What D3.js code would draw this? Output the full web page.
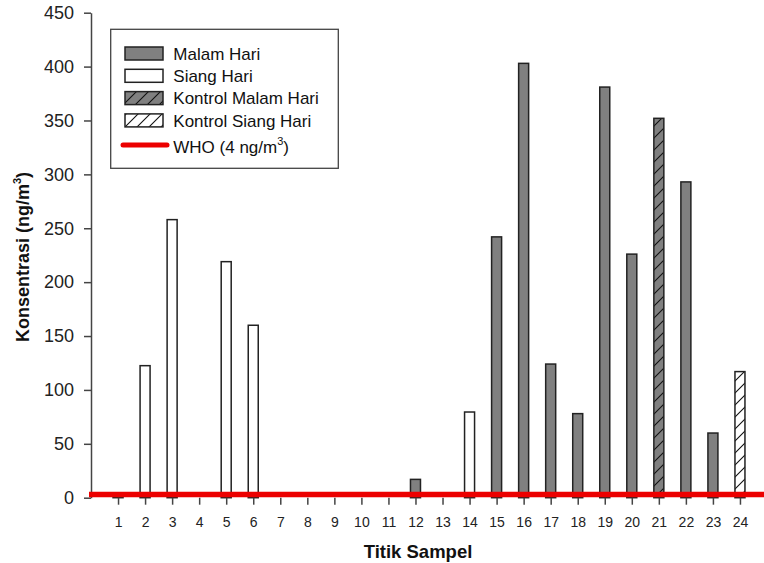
<!DOCTYPE html>
<html>
<head>
<meta charset="utf-8">
<script src="https://cdn.jsdelivr.net/npm/d3@7"></script>
<style>
  html, body { margin: 0; padding: 0; background: #fff; }
  svg { display: block; font-family: Arial, "Liberation Sans", sans-serif; }
</style>
</head>
<body>
<svg id="chart" width="764" height="563"></svg>
<script>
// Sample points along the x axis
const sampleIds = [1, 2, 3, 4, 5, 6, 7, 8, 9, 10, 11, 12, 13, 14, 15, 16, 17, 18, 19, 20, 21, 22, 23, 24];

// Concentrations (ng/m3) per sample point; null where a series has no measurement
const malamHari    = [0.8, null, null, null, null, null, null, null, null, null, null, 17, null, null, 242, 403, 124, 78, 381, 226, null, 293, 60, null];
const siangHari    = [null, 122.5, 258, null, 219, 160, null, null, null, null, null, null, null, 79.5, null, null, null, null, null, null, null, null, null, null];
const kontrolMalam = [null, null, null, null, null, null, null, null, null, null, null, null, null, null, null, null, null, null, null, null, 352, null, null, null];
const kontrolSiang = [null, null, null, null, null, null, null, null, null, null, null, null, null, null, null, null, null, null, null, null, null, null, null, 117];

// WHO guideline value
const whoLimit = 4;

// Y-axis tick values
const yTicks = [0, 50, 100, 150, 200, 250, 300, 350, 400, 450];

const svg = d3.select("#chart");

const x = d3.scaleLinear().domain([0, 25]).range([91, 767]);
const y = d3.scaleLinear().domain([0, 450]).range([497.7, 12.7]);

const barW = 10;

// Diagonal hatch patterns
const defs = svg.append("defs");
function hatch(id, bg) {
  const s = 12;
  const p = defs.append("pattern")
    .attr("id", id)
    .attr("patternUnits", "userSpaceOnUse")
    .attr("width", s).attr("height", s);
  p.append("rect").attr("width", s).attr("height", s).attr("fill", bg);
  p.append("path")
    .attr("d", `M-1,${s + 1} L${s + 1},-1 M-1,1 L1,-1 M${s - 1},${s + 1} L${s + 1},${s - 1}`)
    .attr("stroke", "#111").attr("stroke-width", 1.1);
}
hatch("hatchGray", "#808080");
hatch("hatchWhite", "#ffffff");

const series = [
  { name: "Malam Hari", values: malamHari, fill: "#808080" },
  { name: "Siang Hari", values: siangHari, fill: "#ffffff" },
  { name: "Kontrol Malam Hari", values: kontrolMalam, fill: "url(#hatchGray)" },
  { name: "Kontrol Siang Hari", values: kontrolSiang, fill: "url(#hatchWhite)" }
];

// Bars
series.forEach(s => {
  const pts = sampleIds.map((id, i) => ({ id, v: s.values[i] })).filter(d => d.v != null);
  svg.append("g").selectAll("rect").data(pts).join("rect")
    .attr("x", d => x(d.id) - barW / 2)
    .attr("y", d => y(d.v))
    .attr("width", barW)
    .attr("height", d => y(0) - y(d.v))
    .attr("fill", s.fill)
    .attr("stroke", "#222")
    .attr("stroke-width", 1.5);
});

// Y axis
const yAxis = d3.axisLeft(y).tickValues(yTicks).tickSize(7).tickPadding(10).tickSizeOuter(0);
const gy = svg.append("g").attr("transform", `translate(${x(0)},0)`).call(yAxis);
gy.select(".domain").attr("stroke", "#444").attr("stroke-width", 1.5);
gy.selectAll(".tick line").attr("stroke", "#444").attr("stroke-width", 1.5);
gy.selectAll(".tick text").attr("font-size", 18).attr("fill", "#222")
  .attr("font-family", "Arial, 'Liberation Sans', sans-serif");

// X axis (ticks only)
const xAxis = d3.axisBottom(x).tickValues(sampleIds).tickFormat(d3.format("d")).tickSize(7).tickPadding(12);
const gx = svg.append("g").attr("transform", `translate(0,${y(0)})`).call(xAxis);
gx.select(".domain").remove();
gx.selectAll(".tick line").attr("stroke", "#444").attr("stroke-width", 1.5);
gx.selectAll(".tick text").attr("font-size", 14).attr("fill", "#222")
  .attr("font-family", "Arial, 'Liberation Sans', sans-serif");

// WHO guideline line
svg.append("line")
  .attr("x1", x(0) - 2).attr("x2", 764)
  .attr("y1", y(whoLimit) + 1).attr("y2", y(whoLimit) + 1)
  .attr("stroke", "#ec0000").attr("stroke-width", 5.5);

// Axis titles
svg.append("text")
  .attr("x", 418).attr("y", 558)
  .attr("text-anchor", "middle")
  .attr("font-size", 18.5).attr("font-weight", "bold").attr("fill", "#111")
  .text("Titik Sampel");

const yt = svg.append("text")
  .attr("transform", "translate(29,257) rotate(-90)")
  .attr("text-anchor", "middle")
  .attr("font-size", 18).attr("font-weight", "bold").attr("fill", "#111");
yt.append("tspan").text("Konsentrasi (ng/m");
yt.append("tspan").attr("font-size", 11).attr("dy", -8).text("3");
yt.append("tspan").attr("dy", 8).text(")");

// Legend
const lg = svg.append("g");
lg.append("rect")
  .attr("x", 110.7).attr("y", 29.3).attr("width", 227.6).attr("height", 139)
  .attr("fill", "#fff").attr("stroke", "#444").attr("stroke-width", 1.3);

const rowY = [53.5, 75.8, 98.1, 120.4];
series.forEach((s, i) => {
  lg.append("rect")
    .attr("x", 125).attr("y", rowY[i] - 6.5).attr("width", 38).attr("height", 13)
    .attr("fill", s.fill).attr("stroke", "#222").attr("stroke-width", 1.5);
  lg.append("text")
    .attr("x", 173.3).attr("y", rowY[i]).attr("dy", "0.36em")
    .attr("font-size", 17).attr("fill", "#111")
    .text(s.name);
});

lg.append("line")
  .attr("x1", 123).attr("x2", 167).attr("y1", 145).attr("y2", 145)
  .attr("stroke", "#ec0000").attr("stroke-width", 5).attr("stroke-linecap", "round");
const wt = lg.append("text")
  .attr("x", 173.3).attr("y", 146.5).attr("dy", "0.36em")
  .attr("font-size", 17).attr("fill", "#111");
wt.append("tspan").text("WHO (4 ng/m");
wt.append("tspan").attr("font-size", 11).attr("dy", -8).text("3");
wt.append("tspan").attr("dy", 8).text(")");
</script>
</body>
</html>
